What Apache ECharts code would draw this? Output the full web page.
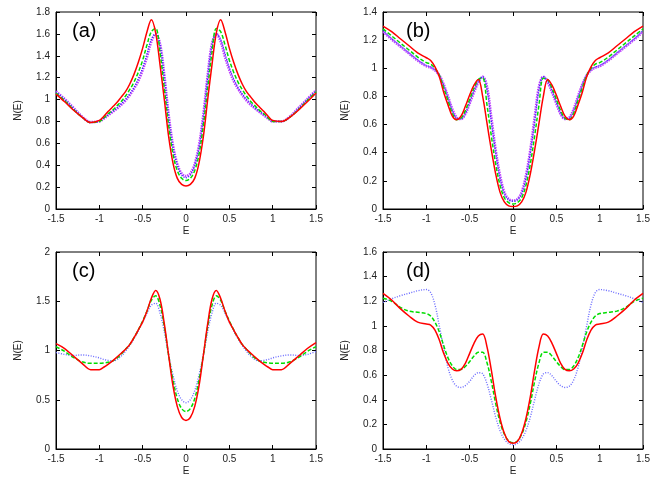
<!DOCTYPE html>
<html><head><meta charset="utf-8">
<script src="https://cdn.jsdelivr.net/npm/echarts@6/dist/echarts.min.js"></script>
<style>html,body{margin:0;padding:0;background:#fff}#c{width:658px;height:480px}</style>
</head><body><div id="c"></div>
<script>
const xs = [-1.5,-1.4,-1.3,-1.2,-1.1,-1,-0.95,-0.9,-0.85,-0.8,-0.75,-0.7,-0.65,-0.6,-0.55,-0.5,-0.45,-0.4,-0.35,-0.3,-0.25,-0.2,-0.15,-0.1,-0.05,0,0.05,0.1,0.15,0.2,0.25,0.3,0.35,0.4,0.45,0.5,0.55,0.6,0.65,0.7,0.75,0.8,0.85,0.9,0.95,1,1.1,1.2,1.3,1.4,1.5];

const aRed = [1.05,0.98,0.905,0.84,0.79,0.81,0.845,0.89,0.93,0.97,1.02,1.07,1.14,1.23,1.34,1.47,1.62,1.73,1.61,1.32,1.0,0.66,0.42,0.28,0.225,0.21,
  0.225,0.28,0.42,0.66,1.0,1.32,1.61,1.73,1.62,1.47,1.34,1.23,1.14,1.07,1.02,0.97,0.93,0.89,0.845,0.81,0.80,0.84,0.905,0.98,1.06];
const aGreen = [1.06,0.99,0.91,0.84,0.79,0.80,0.83,0.87,0.90,0.94,0.98,1.03,1.09,1.16,1.25,1.36,1.50,1.62,1.65,1.43,1.10,0.76,0.50,0.35,0.28,0.26,
  0.28,0.35,0.50,0.76,1.10,1.43,1.65,1.62,1.50,1.36,1.25,1.16,1.09,1.03,0.98,0.94,0.90,0.87,0.83,0.80,0.80,0.84,0.91,0.99,1.07];
const aBlue = [1.07,1.0,0.92,0.84,0.79,0.80,0.83,0.86,0.89,0.92,0.96,1.0,1.05,1.11,1.19,1.29,1.42,1.55,1.60,1.50,1.20,0.84,0.56,0.40,0.31,0.285,
  0.31,0.40,0.56,0.84,1.20,1.50,1.60,1.55,1.42,1.29,1.19,1.11,1.05,1.0,0.96,0.92,0.89,0.86,0.83,0.80,0.80,0.84,0.92,1.0,1.08];
const aMagenta = [1.075,1.005,0.925,0.845,0.795,0.80,0.825,0.855,0.885,0.915,0.95,0.99,1.04,1.10,1.17,1.27,1.39,1.53,1.60,1.51,1.22,0.86,0.58,0.41,0.325,0.30,
  0.325,0.41,0.58,0.86,1.22,1.51,1.60,1.53,1.39,1.27,1.17,1.10,1.04,0.99,0.95,0.915,0.885,0.855,0.825,0.80,0.80,0.845,0.925,1.005,1.085];

const bRed = [1.30,1.26,1.21,1.16,1.11,1.075,1.055,1.01,0.94,0.83,0.74,0.66,0.635,0.66,0.73,0.81,0.88,0.92,0.80,0.61,0.42,0.25,0.12,0.05,0.022,0.017,
  0.022,0.05,0.12,0.25,0.42,0.61,0.80,0.92,0.88,0.81,0.73,0.66,0.635,0.66,0.74,0.83,0.94,1.01,1.055,1.075,1.11,1.16,1.21,1.26,1.30];
const bGreen = [1.28,1.23,1.18,1.13,1.08,1.04,1.03,1.0,0.95,0.86,0.77,0.68,0.635,0.645,0.70,0.78,0.86,0.92,0.93,0.74,0.52,0.32,0.17,0.08,0.045,0.035,
  0.045,0.08,0.17,0.32,0.52,0.74,0.93,0.92,0.86,0.78,0.70,0.645,0.635,0.68,0.77,0.86,0.95,1.0,1.03,1.04,1.08,1.13,1.18,1.23,1.28];
const bBlue = [1.27,1.21,1.16,1.11,1.06,1.02,1.01,0.99,0.95,0.88,0.79,0.70,0.645,0.64,0.68,0.76,0.84,0.91,0.94,0.85,0.62,0.40,0.22,0.11,0.065,0.055,
  0.065,0.11,0.22,0.40,0.62,0.85,0.94,0.91,0.84,0.76,0.68,0.64,0.645,0.70,0.79,0.88,0.95,0.99,1.01,1.02,1.06,1.11,1.16,1.21,1.27];
const bMagenta = [1.26,1.205,1.155,1.105,1.055,1.015,1.005,0.985,0.95,0.885,0.80,0.71,0.65,0.64,0.675,0.75,0.83,0.90,0.94,0.87,0.65,0.42,0.24,0.12,0.07,0.06,
  0.07,0.12,0.24,0.42,0.65,0.87,0.94,0.90,0.83,0.75,0.675,0.64,0.65,0.71,0.80,0.885,0.95,0.985,1.005,1.015,1.055,1.105,1.155,1.205,1.26];

const cRed = [1.07,1.02,0.944,0.87,0.805,0.805,0.83,0.86,0.893,0.93,0.97,1.01,1.06,1.13,1.21,1.29,1.40,1.53,1.61,1.52,1.27,0.95,0.64,0.43,0.32,0.29,
  0.32,0.43,0.64,0.95,1.27,1.52,1.61,1.53,1.40,1.29,1.21,1.13,1.06,1.01,0.97,0.93,0.893,0.86,0.83,0.805,0.805,0.87,0.944,1.02,1.08];
const cGreen = [1.04,0.99,0.93,0.885,0.87,0.87,0.873,0.88,0.893,0.92,0.96,1.01,1.06,1.13,1.21,1.30,1.40,1.51,1.555,1.46,1.24,0.95,0.70,0.51,0.41,0.38,
  0.41,0.51,0.70,0.95,1.24,1.46,1.555,1.51,1.40,1.30,1.21,1.13,1.06,1.01,0.96,0.92,0.893,0.88,0.873,0.87,0.87,0.885,0.93,0.99,1.04];
const cBlue = [0.98,0.96,0.95,0.955,0.945,0.925,0.91,0.90,0.893,0.905,0.94,0.99,1.05,1.12,1.20,1.29,1.38,1.46,1.48,1.38,1.19,0.95,0.75,0.59,0.50,0.47,
  0.50,0.59,0.75,0.95,1.19,1.38,1.48,1.46,1.38,1.29,1.20,1.12,1.05,0.99,0.94,0.905,0.893,0.90,0.91,0.925,0.945,0.955,0.95,0.96,0.99];

const dRed = [1.264,1.21,1.14,1.08,1.03,1.015,1.007,0.966,0.885,0.777,0.696,0.65,0.636,0.647,0.696,0.777,0.858,0.918,0.934,0.83,0.64,0.425,0.25,0.127,0.06,0.046,
  0.06,0.127,0.25,0.425,0.64,0.83,0.934,0.918,0.858,0.777,0.696,0.647,0.636,0.65,0.696,0.777,0.885,0.966,1.007,1.015,1.03,1.08,1.14,1.21,1.264];
const dGreen = [1.225,1.20,1.15,1.12,1.11,1.10,1.08,1.03,0.95,0.84,0.74,0.675,0.645,0.645,0.67,0.71,0.755,0.785,0.785,0.70,0.55,0.37,0.22,0.12,0.065,0.05,
  0.065,0.12,0.22,0.37,0.55,0.70,0.785,0.785,0.755,0.71,0.67,0.645,0.645,0.675,0.74,0.84,0.95,1.03,1.08,1.10,1.11,1.12,1.15,1.20,1.225];
const dBlue = [1.19,1.22,1.245,1.265,1.285,1.295,1.27,1.17,1.0,0.82,0.66,0.56,0.51,0.50,0.515,0.55,0.595,0.62,0.61,0.53,0.40,0.26,0.15,0.08,0.045,0.035,
  0.045,0.08,0.15,0.26,0.40,0.53,0.61,0.62,0.595,0.55,0.515,0.50,0.51,0.56,0.66,0.82,1.0,1.17,1.27,1.295,1.285,1.265,1.245,1.22,1.19];

const panelLabels = ['(a)','(b)','(c)','(d)'];
const yMax = [1.8, 1.4, 2, 1.6];
const yStep = [0.2, 0.2, 0.5, 0.2];
const xTickStep = 0.5;

const FONT = 'Liberation Sans, Arial, sans-serif';
const grids = [
  {left:56, top:12, width:260, height:197},
  {left:383, top:12, width:260, height:197},
  {left:56, top:252, width:260, height:197},
  {left:383, top:252, width:260, height:197}
];
const xAxis = [], yAxis = [];
grids.forEach((g, i) => {
  g.show = true; g.borderColor = '#000'; g.borderWidth = 1; g.backgroundColor = 'transparent';
  xAxis.push({type:'value', gridIndex:i, min:-1.5, max:1.5, interval:xTickStep, position:'bottom',
    name:'E', nameLocation:'middle', nameGap:17, nameTextStyle:{fontFamily:FONT, fontSize:10, color:'#222'},
    axisLine:{show:true, onZero:false, lineStyle:{color:'#000', width:1}},
    axisTick:{inside:true, length:4, lineStyle:{color:'#000'}},
    axisLabel:{fontFamily:FONT, fontSize:10, color:'#222', margin:5},
    splitLine:{show:false}});
  xAxis.push({type:'value', gridIndex:i, min:-1.5, max:1.5, interval:xTickStep, position:'top',
    axisLine:{show:false, onZero:false}, axisTick:{inside:true, length:4, lineStyle:{color:'#000'}},
    axisLabel:{show:false}, splitLine:{show:false}});
  yAxis.push({type:'value', gridIndex:i, min:0, max:yMax[i], interval:yStep[i], position:'left',
    name:'N(E)', nameLocation:'middle', nameGap:33, nameRotate:90, nameTextStyle:{fontFamily:FONT, fontSize:10, color:'#222'},
    axisLine:{show:true, onZero:false, lineStyle:{color:'#000', width:1}},
    axisTick:{inside:true, length:4, lineStyle:{color:'#000'}},
    axisLabel:{fontFamily:FONT, fontSize:10, color:'#222', margin:6},
    splitLine:{show:false}});
  yAxis.push({type:'value', gridIndex:i, min:0, max:yMax[i], interval:yStep[i], position:'right',
    axisLine:{show:false, onZero:false}, axisTick:{inside:true, length:4, lineStyle:{color:'#000'}},
    axisLabel:{show:false}, splitLine:{show:false}});
});

const STY = {
  red:{color:'#ff0000', width:1.5, type:'solid'},
  green:{color:'#00dd00', width:1.5, type:[4,2]},
  blue:{color:'#2a2aff', width:1.3, type:[1,1.5]},
  lblue:{color:'#6a6aff', width:1.4, type:[1,1.5]},
  magenta:{color:'#c040ff', width:2.6, type:[1.5,1]}
};
function mk(arr, panel, sty, z) {
  return {type:'line', xAxisIndex:panel*2, yAxisIndex:panel*2, showSymbol:false, smooth:0.35,
    data: xs.map((x,k)=>[x, arr[k]]), lineStyle: STY[sty], z:z, silent:true, animation:false};
}
const series = [
  mk(aMagenta,0,'magenta',2), mk(aBlue,0,'blue',3), mk(aGreen,0,'green',4), mk(aRed,0,'red',5),
  mk(bMagenta,1,'magenta',2), mk(bBlue,1,'blue',3), mk(bGreen,1,'green',4), mk(bRed,1,'red',5),
  mk(cBlue,2,'lblue',3), mk(cGreen,2,'green',4), mk(cRed,2,'red',5),
  mk(dBlue,3,'lblue',3), mk(dGreen,3,'green',4), mk(dRed,3,'red',5)
];
const labelPos = [[72,33],[406,33],[72,273],[406,273]];
const graphic = panelLabels.map((t,i)=>({type:'text', left:labelPos[i][0], top:labelPos[i][1]-12,
  style:{text:t, fontFamily:FONT, fontSize:20, fill:'#000'}, z:10}));

const chart = echarts.init(document.getElementById('c'), null, {renderer:'canvas'});
chart.setOption({animation:false, backgroundColor:'#fff', grid:grids, xAxis:xAxis, yAxis:yAxis, series:series, graphic:graphic});
</script></body></html>
